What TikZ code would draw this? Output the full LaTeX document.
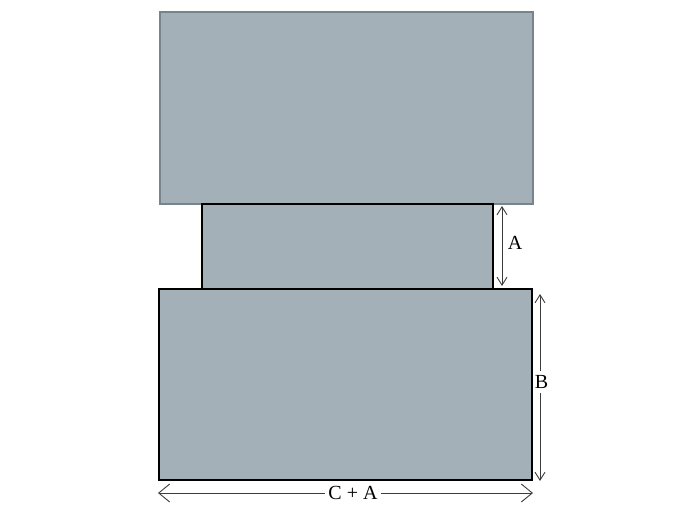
\documentclass[tikz,border=0pt]{standalone}
\usepackage{fontspec}
\setmainfont{Liberation Serif}
\usetikzlibrary{arrows.meta}
\definecolor{slab}{RGB}{164,176,184}
\definecolor{slabedge}{RGB}{120,132,140}
\definecolor{dimline}{RGB}{60,60,60}
\begin{document}
\begin{tikzpicture}[x=1pt,y=-1pt,
  block/.style={fill=slab,draw=black,line width=1.3pt},
  topblock/.style={fill=slab,draw=slabedge,line width=1.2pt},
  dimarrow/.style={draw=dimline,line width=0.9pt,{Straight Barb[length=8pt,width=10pt]}-{Straight Barb[length=8pt,width=10pt]}},
  widearrow/.style={draw=dimline,line width=0.9pt,{Straight Barb[length=11pt,width=18pt]}-{Straight Barb[length=11pt,width=18pt]}},
  lbl/.style={font=\fontsize{20}{24}\selectfont,inner sep=1pt},
  lblw/.style={font=\fontsize{20}{24}\selectfont,fill=white,inner xsep=0.5pt,inner ysep=4pt},
  lblc/.style={font=\fontsize{20}{24}\selectfont,fill=white,inner sep=3pt}]
\useasboundingbox (0,0) rectangle (700,525);
\path[topblock] (160,12) rectangle (533,204);
\path[block] (202,204) rectangle (493,289);
\path[block] (159,289) rectangle (532,480);
\coordinate (a1) at (502,206);
\coordinate (a2) at (502,286);
\draw[dimarrow] (a1) -- (a2);
\node[lbl] (A) at (515,243) {A};
\coordinate (b1) at (540,294);
\coordinate (b2) at (540,481);
\draw[dimarrow] (b1) -- (b2);
\node[lblw] (B) at (541.5,382) {B};
\coordinate (c1) at (158,493);
\coordinate (c2) at (533,493);
\draw[widearrow] (c1) -- (c2) node[lblc,pos=0.52] (CA) {C + A};
\end{tikzpicture}
\end{document}
